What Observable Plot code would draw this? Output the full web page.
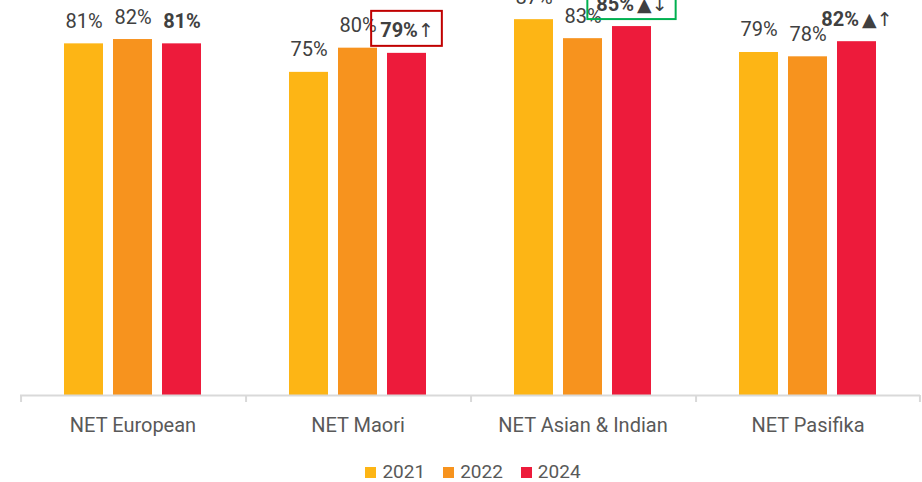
<!DOCTYPE html>
<html>
<head>
<meta charset="utf-8">
<script src="https://cdn.jsdelivr.net/npm/d3@7"></script>
<script src="https://cdn.jsdelivr.net/npm/@observablehq/plot@0.6"></script>
<style>
  html, body { margin: 0; padding: 0; background: #ffffff; }
  #wrap { width: 922px; height: 482px; overflow: hidden; position: relative; font-family: Roboto, "Noto Sans", sans-serif; }
  .legend { display: flex; justify-content: center; align-items: center; margin-top: 11px; padding-left: 24px; font-size: 19px; color: #595959; line-height: 22px; }
  .legend .item { display: flex; align-items: center; margin: 0 9px; }
  .legend .sw { width: 11px; height: 11px; margin-right: 6px; }
</style>
</head>
<body>
<div id="wrap"></div>
<script>
// ---- data ----
const categories = ["NET European", "NET Maori", "NET Asian & Indian", "NET Pasifika"];
const years = ["2021", "2022", "2024"];
const values2021 = [81.4, 74.8, 87.0, 79.4];
const values2022 = [82.4, 80.4, 82.6, 78.4];
const values2024 = [81.4, 79.2, 85.4, 81.9];
const labels2021 = ["81%", "75%", "87%", "79%"];
const labels2022 = ["82%", "80%", "83%", "78%"];
const labels2024 = ["81%", "79%", "85%", "82%"];
const markers2024 = ["", "↑", "▲↓", "▲↑"];
const flags2024 = ["", "negative", "positive", ""];

// ---- styles ----
const yearColors = ["#FDB515", "#F7931E", "#ED1B3B"];
const flagColors = { negative: "#C00000", positive: "#00B050" };
const textColor = "#404040";
const axisColor = "#D9D9D9";
const FONT = "Roboto";
const MARKER_FONT = "DejaVu Sans";
const FS = 20;

const seriesValues = [values2021, values2022, values2024];
const seriesLabels = [labels2021, labels2022, labels2024];
const rows = [];
categories.forEach((c, i) => {
  years.forEach((yr, j) => {
    rows.push({ category: c, year: yr, value: seriesValues[j][i], label: seriesLabels[j][i], idx: i });
  });
});

// layout
const width = 922, height = 450;
const marginLeft = 18, marginRight = 1, marginTop = 0, marginBottom = 55;
const facetW = (width - marginLeft - marginRight) / categories.length;
const padInner = 0.2, padOuter = 0.86;
const step = facetW / (years.length - padInner + 2 * padOuter);
const bandW = step * (1 - padInner);
const edgeOffset = padOuter * step + bandW / 2;
const pxPerUnit = 4.32;
const yMax = (height - marginBottom - marginTop) / pxPerUnit;
const labelGap = -16;

// text measuring
const ctx = document.createElement("canvas").getContext("2d");
function measure(t, weight, family, size) { ctx.font = `${weight} ${size}px "${family}"`; return ctx.measureText(t).width; }

const marks = [];
marks.push(Plot.barY(rows, { fx: "category", x: "year", y: "value", fill: "year" }));
marks.push(Plot.ruleY([0], { stroke: axisColor, strokeWidth: 2 }));
marks.push(Plot.ruleX(categories, { fx: d => d, x: () => years[0], y1: 0, y2: 0, insetBottom: -7, dx: -edgeOffset, stroke: axisColor, strokeWidth: 2 }));
marks.push(Plot.ruleX([categories[categories.length - 1]], { fx: d => d, x: () => years[years.length - 1], y1: 0, y2: 0, insetBottom: -7, dx: edgeOffset, stroke: axisColor, strokeWidth: 2 }));
marks.push(Plot.text(rows.filter(d => d.year !== "2024"), {
  fx: "category", x: "year", y: "value", text: "label", dy: labelGap, lineAnchor: "bottom",
  fontSize: FS, fill: textColor, fontWeight: 400
}));
const MFS = 19;
rows.filter(d => d.year === "2024").forEach(d => {
  const num = d.label, suf = markers2024[d.idx];
  const gap = suf && suf.startsWith("▲") ? 3 : 0;
  const wN = measure(num, "bold", FONT, FS), wS = suf ? measure(suf, "normal", MARKER_FONT, MFS) : 0;
  const W = wN + gap + wS;
  const dxNum = -W / 2 + wN;
  marks.push(Plot.text([d], { fx: "category", x: "year", y: "value", text: "label", dy: labelGap, dx: dxNum, lineAnchor: "bottom", textAnchor: "end", fontSize: FS, fontWeight: "bold", fill: textColor }));
  if (suf) {
    marks.push(Plot.text([d], { fx: "category", x: "year", y: "value", text: () => suf, dy: labelGap, dx: dxNum + gap, lineAnchor: "bottom", textAnchor: "start", fontSize: MFS, fontWeight: "normal", fontFamily: MARKER_FONT, fill: textColor }));
  }
  const flag = flags2024[d.idx];
  if (flag) {
    const half = W / 2 + 9;
    const inset = bandW / 2 - half;
    marks.push(Plot.barY([d], { fx: "category", x: "year", y1: "value", y2: "value", insetTop: -42, insetBottom: 7, insetLeft: inset, insetRight: inset, fill: "none", stroke: flagColors[flag], strokeWidth: 2 }));
  }
});
marks.push(Plot.axisFx({ anchor: "bottom", tickSize: 0, tickPadding: 22, fontSize: FS, label: null, fill: "#595959" }));

const chart = Plot.plot({
  width, height, marginLeft, marginRight, marginTop, marginBottom,
  style: { fontFamily: FONT, background: "#ffffff", color: "#595959" },
  fx: { domain: categories, padding: 0, label: null },
  x: { domain: years, paddingInner: padInner, paddingOuter: padOuter, axis: null },
  y: { domain: [0, yMax], axis: null },
  color: { domain: years, range: yearColors },
  marks
});

const wrap = document.getElementById("wrap");
wrap.appendChild(chart);

const legend = document.createElement("div");
legend.className = "legend";
years.forEach((yr, j) => {
  const item = document.createElement("div");
  item.className = "item";
  const sw = document.createElement("span");
  sw.className = "sw";
  sw.style.background = yearColors[j];
  const t = document.createElement("span");
  t.textContent = yr;
  item.appendChild(sw); item.appendChild(t);
  legend.appendChild(item);
});
wrap.appendChild(legend);
</script>
</body>
</html>
